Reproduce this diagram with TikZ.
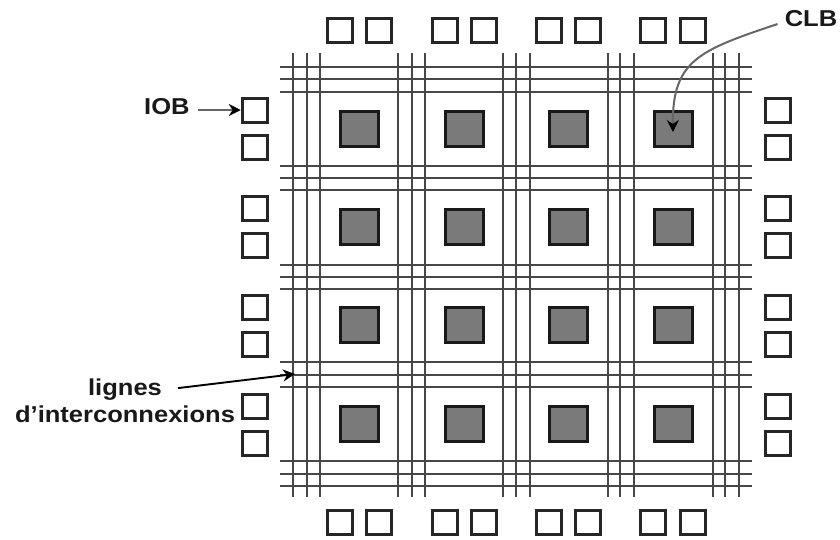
\documentclass[tikz,border=0pt]{standalone}
\usepackage{fontspec}
\setmainfont[FakeStretch=1.11]{Liberation Sans}
\usetikzlibrary{positioning, arrows.meta}

\begin{document}
\begin{tikzpicture}[
    x=1pt, y=-1pt,
    lab/.style={font=\fontsize{23}{25}\selectfont\bfseries, inner sep=0pt, text=black!90},
    iob/.style={draw=black!85, line width=3pt, inner sep=0pt, minimum width=25.5pt, minimum height=24pt},
    clb/.style={draw=black!90, fill=black!52, line width=3pt, inner sep=0pt, minimum width=38pt, minimum height=35.5pt},
    wire/.style={draw=black!72, line width=1.9pt},
    arrow/.style={-{Stealth[length=12pt, width=12pt, black]}, line width=2pt, black!60}
  ]
  \useasboundingbox (0,0) rectangle (840,539);

  % Routing lines
  \foreach \y in {67,79,92,166,178,190,265,277,289,362,375,387,461,474,486}
    \draw[wire] (280,\y) -- (752,\y);
  \foreach \x in {293,307,320,398,412,425,503,516,530,608,620,634,713,725,739}
    \draw[wire] (\x,53) -- (\x,497);

  % CLB (middle)
  \foreach \x [count=\i] in {359,464,568,673}
    \foreach \y [count=\j] in {129,227,325,424}
      \node[clb] (c\i\j) at (\x,\y) {};

  % IOB (top and bottom)
  \foreach \x [count=\i] in {340,379,445,484,549,588,653,693} {
    \node[iob] (t\i) at (\x,30) {};
    \node[iob] (b\i) at (\x,522) {};
  }

  % IOB (left and right)
  \foreach \y [count=\i] in {110,147,208,245,307,344,406,443} {
    \node[iob] (l\i) at (255,\y) {};
    \node[iob] (r\i) at (778,\y) {};
  }

  % Labels
  \node[lab, left=51pt of l1, yshift=3pt] (iobl) {IOB};
  \node[lab] (clbl) at (811,19) {CLB};
  \node[lab] (lignes) at (125,390) {lignes};
  \node[lab, below=5pt of lignes] (interco) {d’interconnexions};
  \coordinate (ligne) at (295,374);

  \draw[arrow] (iobl.east |- l1.west) ++(8,0) -- (l1.west);
  \draw[arrow] (clbl.west) ++(-7,5) .. controls (700,50) and (672,60) .. ([yshift=-3pt]c41.center);
  \draw[arrow, black, line width=1.9pt, shorten <=16pt] (lignes.east) -- (ligne);
\end{tikzpicture}
\end{document}
